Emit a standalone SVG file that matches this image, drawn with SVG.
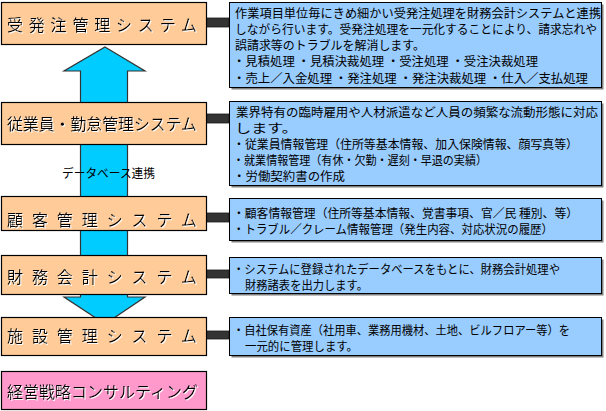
<svg xmlns="http://www.w3.org/2000/svg" width="606" height="411" viewBox="0 0 606 411">
<defs>
<style>
.sys{fill:#FFCC99;stroke:#000;stroke-width:1.2}
.con{fill:#FF99CC;stroke:#000;stroke-width:1.2}
.info{fill:#99CCFF;stroke:#000;stroke-width:1}
.shd{fill:#808080}
.bar{fill:#333333;stroke:#1a1a1a;stroke-width:0.8}
.arrow{fill:#00CCFF;stroke:#333;stroke-width:1.2}
.lt{font-family:"Noto Sans CJK JP","Noto Sans",sans-serif;font-size:16px;fill:#000;filter:url(#wsh)}
.rt{font-family:"Noto Sans CJK JP","Noto Sans",sans-serif;font-size:12px;fill:#000}
</style>
<filter id="wsh" x="-5%" y="-20%" width="110%" height="140%">
<feDropShadow dx="1" dy="1" stdDeviation="0" flood-color="#ffffff" flood-opacity="1"/>
</filter>
</defs>
<rect width="606" height="411" fill="#fff"/>
<g id="connectors">
<polygon class="arrow" points="105,47 145,71 127.5,71 127.5,297 145,297 105,324 64,297 80.5,297 80.5,71 64,71"/>
<text class="rt" x="62" y="178" textLength="93" lengthAdjust="spacingAndGlyphs">データベース連携</text>
<rect class="bar" x="206" y="18" width="23" height="9"/>
<rect class="bar" x="206" y="114" width="23" height="9"/>
<rect class="bar" x="206" y="213" width="23" height="9"/>
<rect class="bar" x="206" y="270" width="23" height="8"/>
<rect class="bar" x="206" y="331" width="23" height="8"/>
</g>
<g id="node-juhacchu">
<rect class="sys" x="1.5" y="2.5" width="205" height="42"/>
<text class="lt" x="7" y="31" textLength="190" lengthAdjust="spacing">受発注管理システム</text>
</g>
<g id="node-jugyoin">
<rect class="sys" x="1.5" y="102.5" width="205" height="42"/>
<text class="lt" x="7" y="130" textLength="190" lengthAdjust="spacingAndGlyphs">従業員・勤怠管理システム</text>
</g>
<g id="node-kokyaku">
<rect class="sys" x="1.5" y="196.5" width="205" height="34"/>
<text class="lt" x="7" y="225.5" textLength="190" lengthAdjust="spacing">顧客管理システム</text>
</g>
<g id="node-zaimu">
<rect class="sys" x="1.5" y="255.5" width="205" height="39"/>
<text class="lt" x="7" y="282.5" textLength="190" lengthAdjust="spacing">財務会計システム</text>
</g>
<g id="node-shisetsu">
<rect class="sys" x="1.5" y="317.5" width="205" height="38"/>
<text class="lt" x="7" y="342" textLength="190" lengthAdjust="spacing">施設管理システム</text>
</g>
<g id="node-keiei">
<rect class="con" x="1.5" y="371.5" width="205" height="38"/>
<text class="lt" x="7" y="398" textLength="191" lengthAdjust="spacingAndGlyphs">経営戦略コンサルティング</text>
</g>
<g id="info-juhacchu">
<rect class="shd" x="231.5" y="4.5" width="372" height="85"/>
<rect class="info" x="229.5" y="2.5" width="372" height="85"/>
<text class="rt" x="235" y="18" textLength="366" lengthAdjust="spacingAndGlyphs">作業項目単位毎にきめ細かい受発注処理を財務会計システムと連携</text>
<text class="rt" x="235" y="34" textLength="362" lengthAdjust="spacingAndGlyphs">しながら行います。受発注処理を一元化することにより、請求忘れや</text>
<text class="rt" x="235" y="50" textLength="190" lengthAdjust="spacingAndGlyphs">誤請求等のトラブルを解消します。</text>
<text class="rt" x="233" y="66" textLength="305" lengthAdjust="spacingAndGlyphs">・見積処理 ・見積決裁処理 ・受注処理 ・受注決裁処理</text>
<text class="rt" x="233" y="82.5" textLength="355" lengthAdjust="spacingAndGlyphs">・売上／入金処理 ・発注処理 ・発注決裁処理 ・仕入／支払処理</text>
</g>
<g id="info-jugyoin">
<rect class="shd" x="231.5" y="103.5" width="372" height="84"/>
<rect class="info" x="229.5" y="101.5" width="372" height="84"/>
<text class="rt" x="236" y="117" textLength="362" lengthAdjust="spacingAndGlyphs">業界特有の臨時雇用や人材派遣など人員の頻繁な流動形態に対応</text>
<text class="rt" x="235" y="133" textLength="63" lengthAdjust="spacingAndGlyphs">します。</text>
<text class="rt" x="233" y="149" textLength="345" lengthAdjust="spacingAndGlyphs">・従業員情報管理（住所等基本情報、加入保険情報、顔写真等）</text>
<text class="rt" x="233" y="165" textLength="254" lengthAdjust="spacingAndGlyphs">・就業情報管理（有休・欠勤・遅刻・早退の実績）</text>
<text class="rt" x="233" y="181" textLength="112" lengthAdjust="spacingAndGlyphs">・労働契約書の作成</text>
</g>
<g id="info-kokyaku">
<rect class="shd" x="231.5" y="200.5" width="372" height="42"/>
<rect class="info" x="229.5" y="198.5" width="372" height="42"/>
<text class="rt" x="233" y="218" textLength="345" lengthAdjust="spacingAndGlyphs">・顧客情報管理（住所等基本情報、覚書事項、官／民 種別、等）</text>
<text class="rt" x="233" y="234" textLength="320" lengthAdjust="spacingAndGlyphs">・トラブル／クレーム情報管理（発生内容、対応状況の履歴）</text>
</g>
<g id="info-zaimu">
<rect class="shd" x="231.5" y="259.5" width="372" height="36"/>
<rect class="info" x="229.5" y="257.5" width="372" height="36"/>
<text class="rt" x="233" y="273.5" textLength="327" lengthAdjust="spacingAndGlyphs">・システムに登録されたデータベースをもとに、財務会計処理や</text>
<text class="rt" x="245" y="289.5" textLength="123" lengthAdjust="spacingAndGlyphs">財務諸表を出力します。</text>
</g>
<g id="info-shisetsu">
<rect class="shd" x="231.5" y="319.5" width="372" height="38"/>
<rect class="info" x="229.5" y="317.5" width="372" height="38"/>
<text class="rt" x="233" y="334.5" textLength="337" lengthAdjust="spacingAndGlyphs">・自社保有資産（社用車、業務用機材、土地、ビルフロアー等）を</text>
<text class="rt" x="245" y="350.5" textLength="113" lengthAdjust="spacingAndGlyphs">一元的に管理します。</text>
</g>
</svg>
